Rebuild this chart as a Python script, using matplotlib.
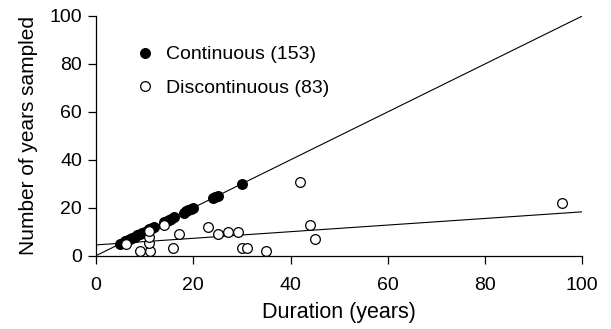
import matplotlib
matplotlib.use('Agg')
import matplotlib.pyplot as plt
import numpy as np

plt.rcParams['font.family'] = ['Liberation Sans', 'DejaVu Sans']

# ciagle serie (leza na prostej y = x)
cont_x = [5, 5.5, 6, 6.5, 7, 7.5, 8, 8.5, 9, 9.5, 10, 10.5, 11, 11.5, 12,
          14, 14.5, 15, 15.5, 16, 18, 18.5, 19, 19.5, 20,
          24, 24.5, 25, 30]
cont_y = cont_x

# serie przerywane
disc_x = [6.1, 9.0, 11.1, 10.9, 10.9, 10.9, 14.0, 17.1, 15.9, 23.0, 25.0,
          27.1, 29.1, 30.1, 31.0, 34.9, 41.9, 44.0, 45.0, 95.9]
disc_y = [4.9, 2.0, 2.0, 5.3, 7.8, 10.1, 12.8, 9.0, 3.1, 12.0, 8.9,
          10.0, 10.0, 3.1, 3.1, 2.0, 30.9, 12.8, 7.0, 22.1]

# linie trendu
cont_a, cont_b = 0.0, 1.0
disc_a, disc_b = 4.5, 0.138

fig = plt.figure(figsize=(6.11, 3.29), dpi=100)
ax = fig.add_axes([96 / 611, 1 - 255.7 / 329, 486.3 / 611, 239.7 / 329])

xx = np.array([0, 100])
ax.plot(xx, cont_a + cont_b * xx, color='black', lw=0.8, zorder=1)
ax.plot(xx, disc_a + disc_b * xx, color='black', lw=0.8, zorder=1)

ax.plot(cont_x, cont_y, 'o', color='black', ms=7, mec='black', mew=0.9,
        label='Continuous (153)', zorder=2)
ax.plot(disc_x, disc_y, 'o', color='white', ms=7, mec='black', mew=0.9,
        label='Discontinuous (83)', zorder=3)

ax.set_xlim(0, 100)
ax.set_ylim(0, 100)
ax.set_xticks(range(0, 101, 20))
ax.set_yticks(range(0, 101, 20))
ax.spines['top'].set_visible(False)
ax.spines['right'].set_visible(False)
for s in ['left', 'bottom']:
    ax.spines[s].set_linewidth(0.9)
ax.tick_params(labelsize=14, length=6, width=0.9, direction='out')
ax.tick_params(axis='x', pad=9)
ax.tick_params(axis='y', pad=4)
ax.set_xlabel('Duration (years)', fontsize=15.5, labelpad=6)
ax.set_ylabel('Number of years sampled', fontsize=15, labelpad=8)

ax.legend(loc='upper left', bbox_to_anchor=(0.0808, 0.876), frameon=False,
          fontsize=14, handlelength=1.0, handletextpad=0.6, labelspacing=0.8,
          borderaxespad=0, borderpad=0, numpoints=1)

fig.savefig('out.png', dpi=100)
